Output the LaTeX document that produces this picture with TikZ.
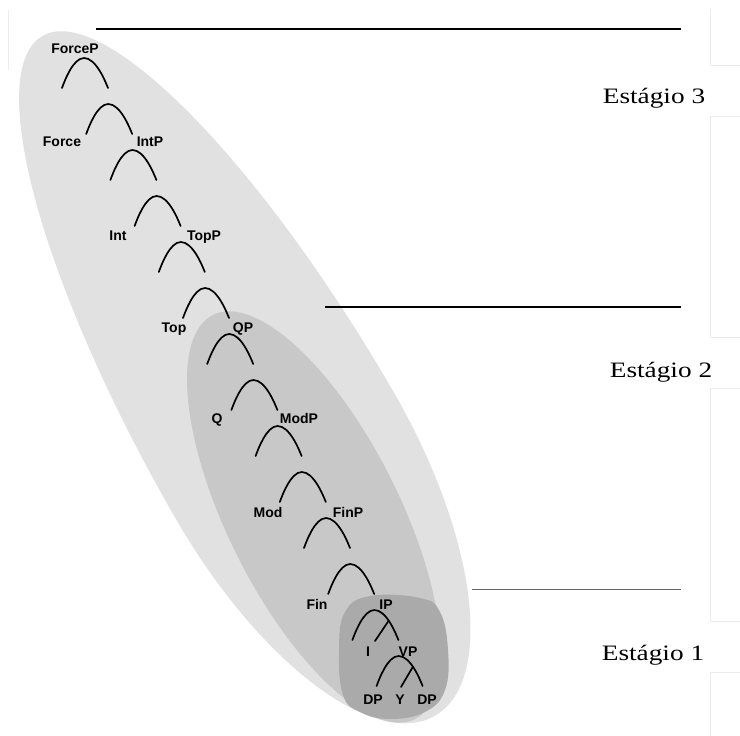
\documentclass[tikz,border=0pt]{standalone}
\usepackage{fontspec}
\setmainfont{Liberation Serif}
\newfontfamily\lblfont{Liberation Sans}
\definecolor{outerc}{RGB}{225,225,225}
\definecolor{midc}{RGB}{200,200,200}
\definecolor{innerc}{RGB}{170,170,170}
\definecolor{faint}{RGB}{236,236,236}
\begin{document}
\begin{tikzpicture}[x=1pt,y=-1pt,
  syn/.style={font=\lblfont\bfseries\fontsize{14}{16}\selectfont, inner sep=0pt, anchor=base},
  stage/.style={font=\fontsize{22}{26}\selectfont, inner sep=0pt, anchor=base},
  branch/.style={line width=1.7pt, line cap=round},
  rulerline/.style={line width=1.2pt},
  faintline/.style={line width=0.8pt, faint},
]
\useasboundingbox (0,0) rectangle (740,736);
\fill[white] (0,0) rectangle (740,736);

% faint scan frame lines
\draw[faintline] (8,10) -- (8,70);
\draw[faintline] (710,9) -- (710,65) -- (740,65);
\draw[faintline] (740,116) -- (710,116) -- (710,337) -- (740,337);
\draw[faintline] (740,388) -- (710,388) -- (710,621) -- (740,621);
\draw[faintline] (740,672) -- (710,672) -- (710,736);

% nested regions
% stage 3: egg-shaped region tilted along the tree
\fill[outerc] plot[domain=0:360, samples=181, smooth]
  ({240+0.5*(90+cos(\x)*(cos(\x)>0?300:485))+0.866*126*sin(\x)},
   {378+0.866*(90+cos(\x)*(cos(\x)>0?300:485))-0.5*126*sin(\x)}) -- cycle;
% stage 2
\fill[midc] plot[domain=0:360, samples=181, smooth]
  ({314+0.447*226*cos(\x)+0.894*86*sin(\x)},
   {517+0.894*226*cos(\x)-0.447*86*sin(\x)}) -- cycle;
% stage 1
\fill[innerc] plot[smooth cycle, tension=0.7] coordinates {
  (370,596) (420,598) (440,612) (448,650) (445,690) (425,712) (390,719)
  (360,712) (343,695) (339,650) (345,612)};

% stage rules
\coordinate (r3a) at (96,29);  \coordinate (r3b) at (681,29);
\coordinate (r2a) at (325,307); \coordinate (r2b) at (681,307);
\coordinate (r1a) at (472,589); \coordinate (r1b) at (681,589);
\draw[rulerline] (r3a) -- (r3b);
\draw[rulerline] (r2a) -- (r2b);
\draw[line width=0.9pt, black!60] (r1a) -- (r1b);

% stage labels
\node[stage] (s3) at (654,103) {\scalebox{1.24}[1]{Estágio 3}};
\node[stage] (s2) at (661,377) {\scalebox{1.24}[1]{Estágio 2}};
\node[stage] (s1) at (653,660) {\scalebox{1.24}[1]{Estágio 1}};

% arches
\foreach \k in {0,...,13}{
  \coordinate (L\k) at ({62+24.2*\k},{88+46*\k});
  \coordinate (A\k) at ({84+24.2*\k},{58+46*\k});
  \coordinate (R\k) at ({108+24.2*\k},{88+46*\k});
  \draw[branch] (L\k) parabola bend (A\k) (R\k);
}
\coordinate (b12) at (388.6,620.8); \coordinate (f12) at (375,641);
\coordinate (b13) at (412.9,666.8); \coordinate (f13) at (401,687);
\draw[branch] (b12) -- (f12);
\draw[branch] (b13) -- (f13);

% labels
\node[syn] (forceP) at (75,53) {ForceP};
\node[syn] (force) at (62,146) {Force};
\node[syn] (intP) at (150,146) {IntP};
\node[syn] (int) at (118,240) {Int};
\node[syn] (topP) at (204,240) {TopP};
\node[syn] (top) at (174,332) {Top};
\node[syn] (qP) at (243,332) {QP};
\node[syn] (q) at (217,423) {Q};
\node[syn] (modP) at (299,423) {ModP};
\node[syn] (mod) at (268,517) {Mod};
\node[syn] (finP) at (348,517) {FinP};
\node[syn] (fin) at (317,609) {Fin};
\node[syn] (iP) at (386,609) {IP};
\node[syn] (ihead) at (368,656) {I};
\node[syn] (vP) at (408,656) {VP};
\node[syn] (dpA) at (373,704) {DP};
\node[syn] (yhead) at (400,704) {Y};
\node[syn] (dpB) at (427,704) {DP};
\end{tikzpicture}
\end{document}
